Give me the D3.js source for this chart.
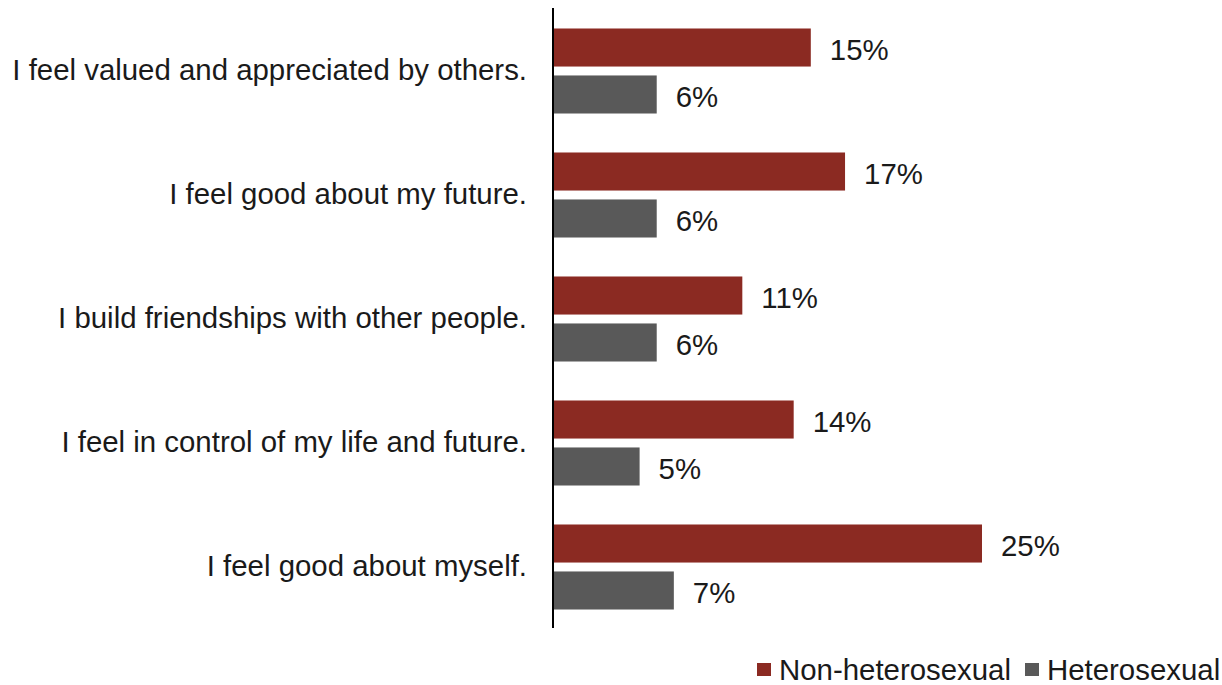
<!DOCTYPE html>
<html>
<head>
<meta charset="utf-8">
<script src="https://cdn.jsdelivr.net/npm/d3@7/dist/d3.min.js"></script>
<style>
  html, body { margin: 0; padding: 0; background: #fff; }
  svg { display: block; font-family: "Liberation Sans", Arial, sans-serif; }
</style>
</head>
<body>
<svg id="chart" width="1222" height="685"></svg>
<script>
// Survey statements, top to bottom
const statements = [
  "I feel valued and appreciated by others.",
  "I feel good about my future.",
  "I build friendships with other people.",
  "I feel in control of my life and future.",
  "I feel good about myself."
];
const seriesNames = ["Non-heterosexual", "Heterosexual"];
const nonHeterosexual = [15, 17, 11, 14, 25];
const heterosexual = [6, 6, 6, 5, 7];
const seriesColors = ["#8B2A22", "#595959"];

const fontSize = 29.4;
const textColor = "#1a1a1a";
const svg = d3.select("#chart");

const axisX = 553;
const y0 = d3.scaleBand().domain(statements).range([9, 629]);
const x = d3.scaleLinear().domain([0, 25]).range([axisX + 1, axisX + 1 + 428]);
const inner = d3.scaleBand().domain(seriesNames).range([0, y0.bandwidth()])
  .paddingInner(0.19).paddingOuter(0.415);

const rows = statements.map((s, i) => ({
  statement: s,
  values: [
    { series: seriesNames[0], value: nonHeterosexual[i] },
    { series: seriesNames[1], value: heterosexual[i] }
  ]
}));

const groups = svg.selectAll("g.group").data(rows).join("g")
  .attr("class", "group")
  .attr("transform", d => `translate(0,${y0(d.statement)})`);

groups.selectAll("rect").data(d => d.values).join("rect")
  .attr("x", x(0))
  .attr("y", d => inner(d.series))
  .attr("width", d => x(d.value) - x(0))
  .attr("height", inner.bandwidth())
  .attr("fill", (d, i) => seriesColors[i]);

groups.selectAll("text.val").data(d => d.values).join("text")
  .attr("class", "val")
  .attr("x", d => x(d.value) + 19)
  .attr("y", d => inner(d.series) + inner.bandwidth() / 2)
  .attr("dy", "0.43em")
  .attr("font-size", fontSize)
  .attr("fill", textColor)
  .text(d => d.value + "%");

// Category labels
const yAxis = d3.axisLeft(y0).tickSize(0).tickPadding(26);
const ag = svg.append("g").attr("transform", `translate(${axisX},0)`).call(yAxis);
ag.select(".domain").remove();
ag.selectAll("text")
  .attr("font-size", fontSize)
  .attr("font-family", "Liberation Sans, Arial, sans-serif")
  .attr("fill", textColor);

// Vertical baseline
svg.append("line")
  .attr("x1", axisX).attr("x2", axisX)
  .attr("y1", 8).attr("y2", 628)
  .attr("stroke", "#000").attr("stroke-width", 2);

// Legend
const legend = svg.append("g").attr("transform", "translate(757,669.5)");
const legendItems = [
  { name: seriesNames[0], color: seriesColors[0], x: 0 },
  { name: seriesNames[1], color: seriesColors[1], x: 268 }
];
const li = legend.selectAll("g").data(legendItems).join("g")
  .attr("transform", d => `translate(${d.x},0)`);
li.append("rect").attr("x", 0).attr("y", -6.5).attr("width", 14).attr("height", 13).attr("fill", d => d.color);
li.append("text").attr("x", 22).attr("y", 0).attr("dy", "0.35em")
  .attr("font-size", fontSize).attr("fill", textColor).text(d => d.name);
</script>
</body>
</html>
